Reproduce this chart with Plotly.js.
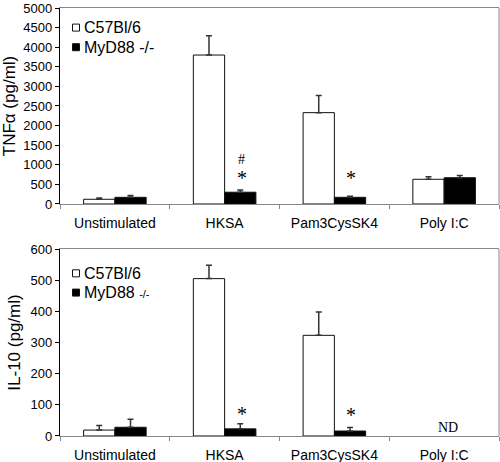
<!DOCTYPE html>
<html>
<head>
<meta charset="utf-8">
<script src="https://cdn.plot.ly/plotly-3.0.1.min.js"></script>
<style>html,body{margin:0;padding:0;background:#fff;}#chart{width:500px;height:462px;}</style>
</head>
<body>
<div id="chart"></div>
<script>
// ---- Data ----
const categories = ['Unstimulated', 'HKSA', 'Pam3CysSK4', 'Poly I:C'];
const seriesNames = ['C57Bl/6', 'MyD88 -/-'];

// TNF-alpha (pg/ml)
const tnfWT    = [120, 3800, 2330, 630];
const tnfWTErr = [35, 490, 440, 65];
const tnfKO    = [170, 300, 170, 670];
const tnfKOErr = [45, 55, 30, 55];

// IL-10 (pg/ml); Poly I:C not determined
const ilWT    = [19, 505, 323, null];
const ilWTErr = [15, 43, 75, null];
const ilKO    = [28, 23, 16, null];
const ilKOErr = [26, 16, 11, null];

// axis ticks
const tnfTicks = [0, 500, 1000, 1500, 2000, 2500, 3000, 3500, 4000, 4500, 5000];
const ilTicks  = [0, 100, 200, 300, 400, 500, 600];

// significance / notes
const tnfNoteCats = ['HKSA', 'HKSA', 'Pam3CysSK4'];
const tnfNoteY    = [1140, 661, 661];
const tnfNoteText = ['#', '*', '*'];
const ilNoteCats  = ['HKSA', 'Pam3CysSK4', 'Poly I:C'];
const ilNoteY     = [70, 66, 27];
const ilNoteText  = ['*', '*', 'ND'];

// ---- Traces ----
function bar(x, y, err, xa, ya, black) {
  return {
    type: 'bar', x: x, y: y, xaxis: xa, yaxis: ya, showlegend: false,
    marker: {color: black ? '#000' : '#fff', line: {color: '#111', width: 1}},
    error_y: {type: 'data', symmetric: false, array: err, arrayminus: err.map(() => 0),
              color: '#333', thickness: 1.5, width: 3},
    hoverinfo: 'x+y'
  };
}
const traces = [
  bar(categories, tnfWT, tnfWTErr, 'x', 'y', false),
  bar(categories, tnfKO, tnfKOErr, 'x', 'y', true),
  bar(categories, ilWT, ilWTErr, 'x2', 'y2', false),
  bar(categories, ilKO, ilKOErr, 'x2', 'y2', true)
];

// ---- Annotations ----
const annotations = [];
const serif = 'Liberation Serif, Times New Roman, serif';
function noteSize(t) { return t === '*' ? 20 : 14; }
tnfNoteCats.forEach((c, i) => annotations.push({
  xref: 'x', yref: 'y', x: c, y: tnfNoteY[i], text: tnfNoteText[i], showarrow: false,
  xshift: 17, borderpad: 0, font: {family: serif, size: noteSize(tnfNoteText[i]), color: '#000'}
}));
ilNoteCats.forEach((c, i) => annotations.push({
  xref: 'x2', yref: 'y2', x: c, y: ilNoteY[i], text: ilNoteText[i], showarrow: false,
  xshift: ilNoteText[i] === 'ND' ? 4 : 17, borderpad: 0,
  font: {family: serif, size: noteSize(ilNoteText[i]), color: '#000'}
}));

// custom legends
const legendFont = {family: 'Liberation Sans, Arial, sans-serif', size: 16, color: '#000'};
const shapes = [];
function legendItem(xr, yr, yc, halfH, label, black) {
  shapes.push({type: 'rect', xref: xr + ' domain', yref: yr + ' domain',
    x0: 0.0285, x1: 0.0444, y0: yc - halfH, y1: yc + halfH,
    fillcolor: black ? '#000' : '#fff', line: {color: '#111', width: 1}});
  annotations.push({xref: xr + ' domain', yref: yr + ' domain', x: 0.05, y: yc,
    xanchor: 'left', yanchor: 'middle', showarrow: false, text: label, font: legendFont});
}
legendItem('x', 'y', 0.90, 0.0179, seriesNames[0], false);
legendItem('x', 'y', 0.80, 0.0179, seriesNames[1], true);
legendItem('x2', 'y2', 0.87, 0.0187, seriesNames[0], false);
legendItem('x2', 'y2', 0.767, 0.0187, 'MyD88 <span style="font-size:11px">-/-</span>', true);

// right borders (gray)
['y', 'y2'].forEach((ya, i) => shapes.push({type: 'line', xref: (i ? 'x2' : 'x') + ' domain', yref: ya + ' domain',
  x0: 1, x1: 1, y0: 0, y1: 1, line: {color: '#999', width: 1.2}}));

const xCommon = {
  type: 'category', showline: true, linecolor: '#888', linewidth: 1.2, mirror: true,
  ticks: 'outside', tickson: 'boundaries', ticklen: 4, tickcolor: '#888',
  showgrid: false, zeroline: false, tickfont: {size: 14, color: '#000'}, ticklabelstandoff: 6
};
const yCommon = {
  showline: true, linecolor: '#000', linewidth: 1.2, ticks: 'outside', ticklen: 4, tickcolor: '#000',
  showgrid: false, zeroline: false, tickfont: {size: 13, color: '#000'},
  ticklabeloverflow: 'allow', tickmode: 'array'
};

const layout = {
  width: 500, height: 462,
  margin: {l: 60, r: 1, t: 8, b: 26},
  paper_bgcolor: '#fff', plot_bgcolor: '#fff',
  font: {family: 'Liberation Sans, Arial, sans-serif', size: 14, color: '#000'},
  showlegend: false,
  barmode: 'group', bargap: 0.43, bargroupgap: 0,
  xaxis: Object.assign({}, xCommon, {domain: [0, 1], anchor: 'y'}),
  yaxis: Object.assign({}, yCommon, {domain: [0.5421, 1], anchor: 'x', range: [0, 5000],
    tickvals: tnfTicks,
    title: {text: 'TNFα (pg/ml)', font: {size: 17}, standoff: 5}}),
  xaxis2: Object.assign({}, xCommon, {domain: [0, 1], anchor: 'y2'}),
  yaxis2: Object.assign({}, yCommon, {domain: [0, 0.4369], anchor: 'x2', range: [0, 600],
    tickvals: ilTicks,
    title: {text: 'IL-10 (pg/ml)', font: {size: 17}, standoff: 5}}),
  annotations: annotations,
  shapes: shapes
};

Plotly.newPlot('chart', traces, layout, {displayModeBar: false, staticPlot: true});
</script>
</body>
</html>
